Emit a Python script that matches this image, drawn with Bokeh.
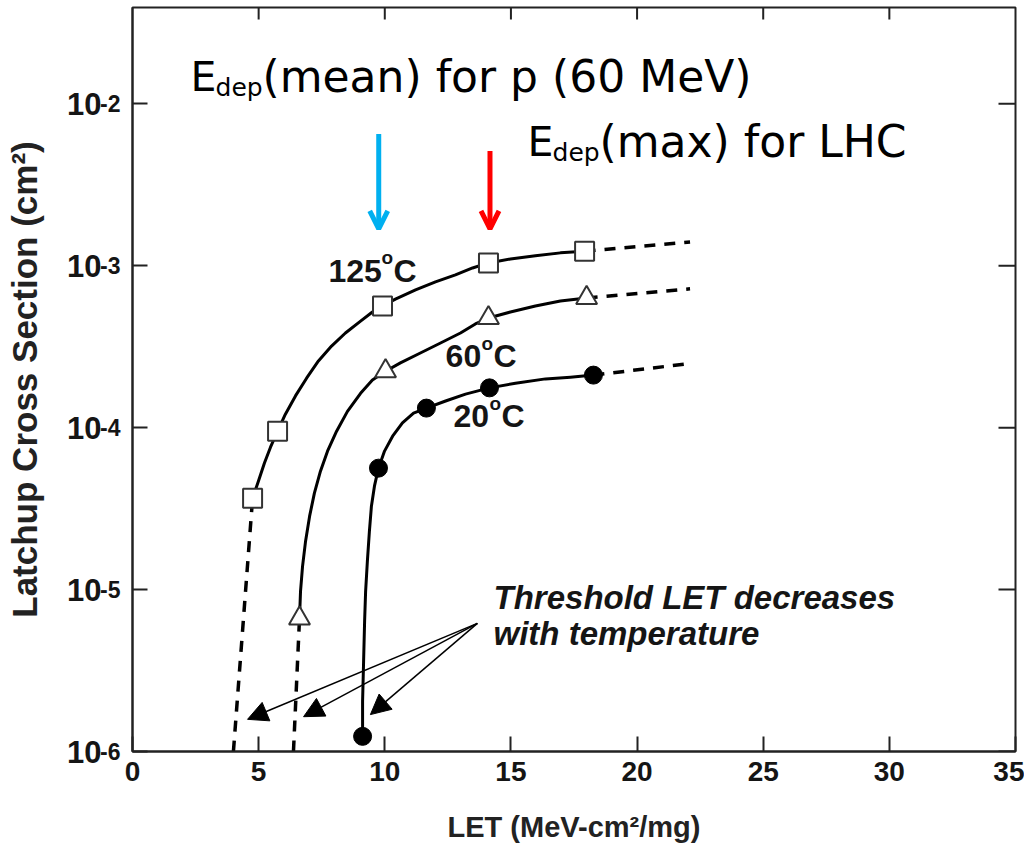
import math
from bokeh.plotting import figure
from bokeh.models import FixedTicker, Arrow, NormalHead, OpenHead, CustomJSTickFormatter, LogAxis
from bokeh.core.properties import value
from bokeh.embed import file_html
from bokeh.resources import INLINE

# ---------------- data ----------------
# 125 C (open squares)
m125_x = [4.76, 5.75, 9.91, 14.11, 17.92]
m125_y = [3.66e-5, 9.5e-5, 5.64e-4, 1.04e-3, 1.23e-3]
c125_x = [4.76, 4.99, 5.23, 5.47, 5.75, 6.06, 6.46, 6.90, 7.37, 7.89, 8.44, 9.04, 9.51, 9.91,
          10.42, 11.22, 12.01, 12.80, 13.48, 14.11, 14.98, 15.97, 16.96, 17.92]
c125_y = [3.66e-5, 4.67e-5, 6.04e-5, 7.57e-5, 9.5e-5, 1.21e-4, 1.57e-4, 2.02e-4, 2.58e-4, 3.19e-4,
          3.84e-4, 4.55e-4, 5.18e-4, 5.64e-4, 6.22e-4, 7.08e-4, 7.94e-4, 8.77e-4, 9.68e-4, 1.04e-3,
          1.10e-3, 1.15e-3, 1.20e-3, 1.23e-3]
d125_low_x = [4.0, 4.76]
d125_low_y = [1e-6, 3.66e-5]
d125_high_x = [17.92, 22.1]
d125_high_y = [1.23e-3, 1.4e-3]

# 60 C (open triangles)
m60_x = [6.62, 10.03, 14.11, 18.0]
m60_y = [6.64e-6, 2.23e-4, 4.75e-4, 6.32e-4]
c60_x = [6.62, 6.66, 6.74, 6.86, 7.02, 7.21, 7.45, 7.73, 8.09, 8.52, 9.04, 9.51, 10.03,
         10.62, 11.41, 12.21, 13.0, 13.59, 14.11, 14.98, 15.97, 16.96, 18.0]
c60_y = [6.64e-6, 9.75e-6, 1.39e-5, 1.99e-5, 2.84e-5, 3.94e-5, 5.38e-5, 7.15e-5, 9.5e-5, 1.26e-4,
         1.63e-4, 1.97e-4, 2.23e-4, 2.51e-4, 2.89e-4, 3.33e-4, 3.84e-4, 4.37e-4, 4.75e-4, 5.18e-4,
         5.64e-4, 6.05e-4, 6.32e-4]
d60_low_x = [6.38, 6.62]
d60_low_y = [1e-6, 6.64e-6]
d60_high_x = [18.0, 22.1]
d60_high_y = [6.32e-4, 7.2e-4]

# 20 C (filled circles)
m20_x = [9.12, 9.75, 11.65, 14.15, 18.27]
m20_y = [1.24e-6, 5.62e-5, 1.32e-4, 1.76e-4, 2.11e-4]
c20_x = [9.12, 9.12, 9.16, 9.20, 9.24, 9.31, 9.39, 9.47, 9.59, 9.75, 9.99, 10.31, 10.70, 11.14,
         11.65, 12.41, 13.20, 14.15, 15.18, 16.37, 17.36, 18.27]
c20_y = [1.24e-6, 2.04e-6, 3.60e-6, 6.35e-6, 9.75e-6, 1.50e-5, 2.29e-5, 3.27e-5, 4.35e-5, 5.62e-5,
         7.16e-5, 8.85e-5, 1.07e-4, 1.23e-4, 1.32e-4, 1.46e-4, 1.61e-4, 1.76e-4, 1.88e-4, 2.0e-4,
         2.05e-4, 2.11e-4]
d20_high_x = [18.27, 22.2]
d20_high_y = [2.11e-4, 2.5e-4]

x_ticks = [0, 5, 10, 15, 20, 25, 30, 35]
y_ticks = [1e-6, 1e-5, 1e-4, 1e-3, 1e-2]
x_min, x_max = 0, 35
y_min, y_max = 1e-6, 0.0393

# annotations
temp_labels = ["125", "60", "20"]
temp_x = [7.77, 12.41, 12.72]
temp_y = [7.71e-4, 2.30e-4, 9.8e-5]

thr_lines = ["Threshold LET decreases", "with temperature"]
thr_x = [14.31, 14.31]
thr_y = [7.45e-6, 4.46e-6]
thr_from = (13.67, 6.18e-6)
thr_to_x = [4.56, 6.78, 9.43]
thr_to_y = [1.58e-6, 1.64e-6, 1.69e-6]

edep_x = [2.30, 15.66]
edep_y = [1.20e-2, 4.77e-3]
edep_rest = ["(mean) for p (60 MeV)", "(max) for LHC"]

blue_arrow = (9.76, 6.5e-3, 1.69e-3)
red_arrow = (14.17, 5.1e-3, 1.69e-3)

# ---------------- figure ----------------
p = figure(width=1024, height=846, x_range=(x_min, x_max), y_range=(y_min, y_max),
           y_axis_type="log", output_backend="svg", toolbar_location=None,
           min_border_left=132, min_border_right=9, min_border_top=7, min_border_bottom=95)
p.grid.visible = False
p.outline_line_color = "#222222"
p.outline_line_width = 2
p.background_fill_color = "white"
p.border_fill_color = "white"

AX = "Liberation Sans"
INK = "#151515"
TXT_SHIFT = -13  # pixel correction of the text baseline

p.xaxis.ticker = FixedTicker(ticks=x_ticks)
p.yaxis.ticker = FixedTicker(ticks=y_ticks)
for ax in (p.xaxis[0], p.yaxis[0]):
    ax.axis_line_width = 2
    ax.axis_line_color = "#222222"
    ax.major_tick_in = 15
    ax.major_tick_out = 0
    ax.major_tick_line_width = 2
    ax.major_tick_line_color = "#222222"
    ax.minor_tick_line_color = None
    ax.major_label_text_font = AX
    ax.major_label_text_font_style = "bold"
    ax.major_label_text_color = INK
    ax.axis_label_text_font = AX
    ax.axis_label_text_font_style = "bold"
    ax.axis_label_text_color = "#222222"

p.xaxis.major_label_text_font_size = "28px"
p.xaxis.major_label_standoff = 10
p.xaxis.axis_label = "LET (MeV-cm\u00b2/mg)"
p.xaxis.axis_label_text_font_size = "29px"
p.xaxis.axis_label_standoff = 27

# inner left axis: the exponents of the y tick labels (raised like superscripts)
p.yaxis.formatter = CustomJSTickFormatter(code="return String(Math.round(Math.log10(tick)));")
p.yaxis.major_label_text_font_size = "23px"
p.yaxis.major_label_standoff = 12
p.yaxis.major_label_text_baseline = "alphabetic"

# outer left axis: the base "10" and the axis title
base_axis = LogAxis(ticker=FixedTicker(ticks=y_ticks),
                    formatter=CustomJSTickFormatter(code="return '10';"),
                    axis_line_color=None, major_tick_line_color=None, minor_tick_line_color=None,
                    major_label_standoff=-10, major_label_text_font=AX,
                    major_label_text_font_style="bold", major_label_text_font_size="31px",
                    major_label_text_color=INK,
                    axis_label="Latchup Cross Section (cm\u00b2)", axis_label_text_font=AX,
                    axis_label_text_font_style="bold", axis_label_text_font_size="35px",
                    axis_label_text_color="#222222", axis_label_standoff=20)
p.add_layout(base_axis, "left")

# inward ticks on top and right frame edges (half of each dash is clipped by the frame)
p.scatter(x_ticks[1:-1], [y_max] * (len(x_ticks) - 2), marker="dash", angle=math.pi / 2,
          size=24, line_color="#222222", line_width=2)
p.scatter([x_max] * len(y_ticks), y_ticks, marker="dash", size=34,
          line_color="#222222", line_width=2)

# dashed extrapolations
for xs, ys in [(d125_low_x, d125_low_y), (d125_high_x, d125_high_y),
               (d60_low_x, d60_low_y), (d60_high_x, d60_high_y),
               (d20_high_x, d20_high_y)]:
    p.line(xs, ys, line_color="black", line_width=3.5, line_dash="11 9")

# solid fitted curves
for xs, ys in [(c125_x, c125_y), (c60_x, c60_y), (c20_x, c20_y)]:
    p.line(xs, ys, line_color="black", line_width=3, line_join="round")

# markers
p.scatter(m125_x, m125_y, marker="square", size=19, fill_color="white",
          line_color="#333333", line_width=2)
p.scatter(m60_x, m60_y, marker="triangle", size=21, fill_color="white",
          line_color="#333333", line_width=2)
p.scatter(m20_x, m20_y, marker="circle", size=18, fill_color="black",
          line_color="black", line_width=1)

# temperature labels: number, superscript o, C
num_w = {"125": 53, "60": 36, "20": 36}
p.text(temp_x, temp_y, text=temp_labels, y_offset=TXT_SHIFT, text_font=value(AX),
       text_font_style="bold", text_font_size="32px", text_color=INK, text_baseline="alphabetic")
p.text(temp_x, temp_y, text=["o"] * 3, x_offset=[num_w[t] for t in temp_labels],
       y_offset=TXT_SHIFT - 13, text_font=value(AX), text_font_style="bold",
       text_font_size="19px", text_color=INK, text_baseline="alphabetic")
p.text(temp_x, temp_y, text=["C"] * 3, x_offset=[num_w[t] + 12 for t in temp_labels],
       y_offset=TXT_SHIFT, text_font=value(AX), text_font_style="bold", text_font_size="32px",
       text_color=INK, text_baseline="alphabetic")

# threshold note and arrows
p.text(thr_x, thr_y, text=thr_lines, y_offset=TXT_SHIFT, text_font=value(AX),
       text_font_style="bold italic", text_font_size="33px", text_color=INK,
       text_baseline="alphabetic")
for tx, ty in zip(thr_to_x, thr_to_y):
    p.add_layout(Arrow(x_start=thr_from[0], y_start=thr_from[1], x_end=tx, y_end=ty,
                       line_width=1.5, line_color="black",
                       end=NormalHead(size=20, fill_color="black", line_color="black")))

# E_dep labels
EF = "DejaVu Sans"
p.text(edep_x, edep_y, text=["E", "E"], y_offset=TXT_SHIFT - 1, text_font=value(EF),
       text_font_size="41px", text_color="black", text_baseline="alphabetic")
p.text(edep_x, edep_y, text=["dep", "dep"], x_offset=25, y_offset=TXT_SHIFT + 10,
       text_font=value(EF), text_font_size="25px", text_color="black", text_baseline="alphabetic")
p.text(edep_x, edep_y, text=edep_rest, x_offset=72, y_offset=TXT_SHIFT - 1, text_font=value(EF),
       text_font_size="44px", text_color="black", text_baseline="alphabetic")

# coloured arrows
for (ax_, y0, y1), col in [(blue_arrow, "#00B0F0"), (red_arrow, "#FF0000")]:
    p.add_layout(Arrow(x_start=ax_, y_start=y0, x_end=ax_, y_end=y1, line_width=5, line_color=col,
                       end=OpenHead(size=18, line_width=5, line_color=col)))

open("out.html", "w").write(file_html(p, INLINE))
